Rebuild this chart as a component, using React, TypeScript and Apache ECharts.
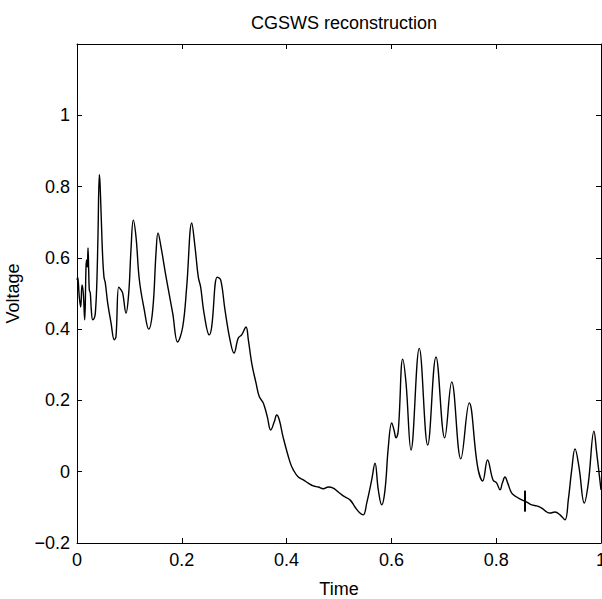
import React, { useEffect, useRef } from "react";
import * as echarts from "echarts";

const timeVals = [
  0, 0.0013, 0.0044, 0.0071, 0.0095, 0.012, 0.0147, 0.0172, 0.0185, 0.0197, 0.021, 0.0223,
  0.0235, 0.0254, 0.0273, 0.03, 0.033, 0.035, 0.0376, 0.04, 0.0426, 0.0439, 0.0464, 0.049,
  0.0515, 0.054, 0.0586, 0.065, 0.0712, 0.0744, 0.0796, 0.084, 0.0872, 0.0935, 0.0987, 0.103,
  0.1074, 0.1126, 0.119, 0.1284, 0.1368, 0.1445, 0.1508, 0.1546, 0.1603, 0.17, 0.1826, 0.192,
  0.2017, 0.2093, 0.219, 0.2252, 0.2315, 0.236, 0.2424, 0.2525, 0.257, 0.2677, 0.2742, 0.2824,
  0.292, 0.2996, 0.3078, 0.3143, 0.3225, 0.327, 0.3334, 0.3416, 0.348, 0.3555, 0.3632, 0.3697,
  0.3765, 0.3811, 0.3861, 0.3937, 0.4065, 0.4128, 0.4223, 0.4319, 0.4414, 0.451, 0.4605, 0.47,
  0.4796, 0.4891, 0.4987, 0.5082, 0.521, 0.5305, 0.54, 0.5464, 0.5529, 0.5624, 0.5687, 0.575,
  0.5815, 0.5878, 0.5941, 0.6006, 0.605, 0.6088, 0.6132, 0.6216, 0.6279, 0.6374, 0.6532, 0.6693,
  0.6851, 0.7017, 0.7151, 0.7325, 0.7485, 0.7643, 0.7742, 0.7834, 0.7939, 0.801, 0.8073, 0.8117,
  0.8168, 0.822, 0.8296, 0.8391, 0.8487, 0.8582, 0.8678, 0.8773, 0.8868, 0.8964, 0.9027, 0.9122,
  0.9218, 0.9313, 0.9376, 0.9441, 0.9504, 0.958, 0.9681, 0.9758, 0.9866, 0.9918, 1.0,
];

const voltageVals = [
  0.538, 0.546, 0.49, 0.462, 0.524, 0.501, 0.426, 0.574, 0.594, 0.574, 0.628, 0.566,
  0.51, 0.501, 0.454, 0.426, 0.431, 0.445, 0.518, 0.659, 0.833, 0.81, 0.707, 0.602,
  0.546, 0.53, 0.473, 0.417, 0.37, 0.379, 0.518, 0.51, 0.501, 0.445, 0.501, 0.622,
  0.706, 0.659, 0.538, 0.454, 0.4, 0.454, 0.614, 0.67, 0.631, 0.546, 0.445, 0.364,
  0.406, 0.518, 0.698, 0.631, 0.546, 0.518, 0.445, 0.384, 0.406, 0.546, 0.538, 0.454,
  0.37, 0.333, 0.375, 0.384, 0.406, 0.37, 0.305, 0.249, 0.21, 0.193, 0.154, 0.117,
  0.14, 0.159, 0.145, 0.095, 0.027, 0.005, -0.015, -0.023, -0.032, -0.04, -0.043, -0.048,
  -0.043, -0.046, -0.057, -0.068, -0.079, -0.099, -0.116, -0.121, -0.088, -0.023, 0.024, -0.051,
  -0.093, -0.051, 0.069, 0.137, 0.117, 0.095, 0.117, 0.316, 0.249, 0.061, 0.346, 0.075,
  0.322, 0.095, 0.252, 0.036, 0.193, 0.016, -0.026, 0.033, -0.023, -0.032, -0.051, -0.032,
  -0.015, -0.032, -0.06, -0.071, -0.079, -0.085, -0.093, -0.096, -0.102, -0.113, -0.116, -0.113,
  -0.121, -0.135, -0.079, 0.005, 0.064, 0.013, -0.088, -0.032, 0.114, 0.053, -0.051,
];

const markerX = [0.855, 0.855];
const markerY = [-0.053, -0.112];

const xTicks = [0, 0.2, 0.4, 0.6, 0.8, 1];
const yTicks = [-0.2, 0, 0.2, 0.4, 0.6, 0.8, 1];

const FONT = "'Liberation Sans', Arial, Helvetica, sans-serif";

function fmt(v: number): string {
  const r = Math.round(v * 10) / 10;
  const s = String(Math.abs(r));
  return r < 0 ? "\u2212" + s : s;
}

export default function App() {
  const ref = useRef<HTMLDivElement>(null);
  useEffect(() => {
    if (!ref.current) return;
    const chart = echarts.init(ref.current, undefined, { renderer: "svg" });
    const lineData = timeVals.map((t, i) => [t, voltageVals[i]]);
    const markData = markerX.map((t, i) => [t, markerY[i]]);
    const axisLineStyle = { color: "#000", width: 1 };
    const labelStyle = { color: "#000", fontSize: 18, fontFamily: FONT };
    const showX = (v: number) => xTicks.some((t) => Math.abs(t - v) < 1e-6);
    const showY = (v: number) => yTicks.some((t) => Math.abs(t - v) < 1e-6);
    chart.setOption({
      animation: false,
      backgroundColor: "#fff",
      title: {
        text: "CGSWS reconstruction",
        left: 339,
        top: 9,
        textAlign: "center",
        textStyle: { color: "#000", fontSize: 18, fontWeight: "normal", fontFamily: FONT },
      },
      grid: {
        left: 77,
        right: 1,
        top: 44,
        bottom: 56,
        containLabel: false,
        outerBoundsMode: "none",
      },
      xAxis: [
        {
          type: "value",
          min: 0,
          max: 1,
          interval: 0.2,
          position: "bottom",
          name: "Time",
          nameLocation: "middle",
          nameGap: 37,
          nameTextStyle: labelStyle,
          axisLine: { show: true, onZero: false, lineStyle: axisLineStyle },
          axisTick: { show: true, inside: true, length: 5, lineStyle: axisLineStyle },
          axisLabel: { ...labelStyle, margin: 8, formatter: (v: number) => (showX(v) ? fmt(v) : "") },
          splitLine: { show: false },
        },
        {
          type: "value",
          min: 0,
          max: 1,
          interval: 0.2,
          position: "top",
          axisLine: { show: true, onZero: false, lineStyle: axisLineStyle },
          axisTick: { show: true, inside: true, length: 5, lineStyle: axisLineStyle },
          axisLabel: { show: false },
          splitLine: { show: false },
        },
      ],
      yAxis: [
        {
          type: "value",
          min: -0.2,
          max: 1.2,
          interval: 0.2,
          position: "left",
          name: "Voltage",
          nameLocation: "middle",
          nameGap: 55,
          nameTextStyle: labelStyle,
          axisLine: { show: true, onZero: false, lineStyle: axisLineStyle },
          axisTick: { show: true, inside: true, length: 5, lineStyle: axisLineStyle },
          axisLabel: { ...labelStyle, margin: 7, formatter: (v: number) => (showY(v) ? fmt(v) : "") },
          splitLine: { show: false },
        },
        {
          type: "value",
          min: -0.2,
          max: 1.2,
          interval: 0.2,
          position: "right",
          axisLine: { show: true, onZero: false, lineStyle: axisLineStyle },
          axisTick: { show: true, inside: true, length: 5, lineStyle: axisLineStyle },
          axisLabel: { show: false },
          splitLine: { show: false },
        },
      ],
      series: [
        {
          type: "line",
          data: lineData,
          xAxisIndex: 0,
          yAxisIndex: 0,
          showSymbol: false,
          symbol: "none",
          smooth: 0.4,
          lineStyle: { color: "#000", width: 1.4 },
        },
        {
          type: "line",
          data: markData,
          xAxisIndex: 0,
          yAxisIndex: 0,
          showSymbol: false,
          symbol: "none",
          lineStyle: { color: "#000", width: 2 },
        },
      ],
    });
    return () => chart.dispose();
  }, []);
  return (
    <div
      ref={ref}
      style={{ position: "fixed", left: 0, top: 0, width: 602, height: 599, background: "#fff" }}
    />
  );
}
